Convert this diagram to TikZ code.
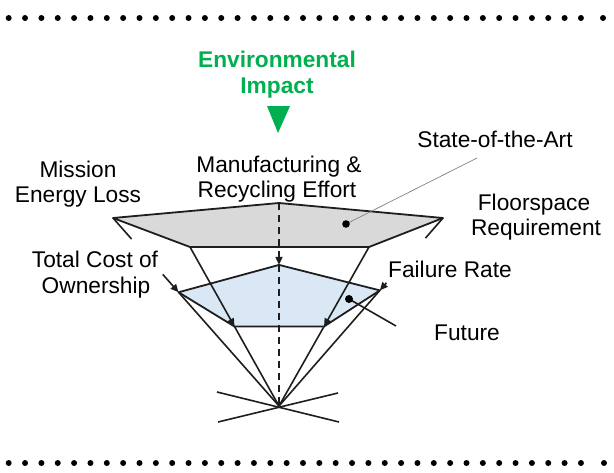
\documentclass[tikz,border=0pt]{standalone}
\usepackage{fontspec}
\setmainfont{Liberation Sans}
\usetikzlibrary{arrows.meta,calc}
\definecolor{envgreen}{RGB}{0,176,80}
\definecolor{sotagray}{RGB}{217,217,217}
\definecolor{futblue}{RGB}{218,232,246}
\definecolor{edgeblack}{RGB}{30,30,30}
\begin{document}
\begin{tikzpicture}[x=1pt,y=-1pt,line join=round,
  lbl/.style={font=\fontsize{22.7}{25}\selectfont,inner sep=0pt,anchor=base},
  envlbl/.style={lbl,font=\fontsize{22.7}{25}\selectfont\bfseries,text=envgreen},
  polyedge/.style={line width=1.8pt,draw=edgeblack},
  axis/.style={line width=1.6pt,draw=edgeblack},
  tip/.style={-{Triangle[length=8pt,width=7pt]}},
  dashaxis/.style={axis,dash pattern=on 7pt off 5pt},
  borderdot/.style={fill=black}]
\useasboundingbox (0,0) rectangle (614,472);
% dotted borders
\foreach \i in {0,...,35} {
  \fill[borderdot] ({8.7+16.35*\i},18) circle (3);
  \fill[borderdot] ({8.7+16.35*\i},463) circle (3);
}
\fill[borderdot] (603,18) circle (3);
\fill[borderdot] (604,463) circle (3);
% geometry
\coordinate (apex) at (279,406);
\coordinate (gT) at (279,203);
\coordinate (gL) at (113,218);
\coordinate (gR) at (443,218);
\coordinate (gBL) at (190,247);
\coordinate (gBR) at (369,247);
\coordinate (bT) at ($(gT)!0.305!(apex)$);
\coordinate (bL) at ($(gL)!0.395!(apex)$);
\coordinate (bR) at ($(gR)!0.385!(apex)$);
\coordinate (bBL) at ($(gBL)!0.5!(apex)$);
\coordinate (bBR) at ($(gBR)!0.5!(apex)$);
% polygons
\filldraw[polyedge,fill=sotagray] (gL) -- (gT) -- (gR) -- (gBR) -- (gBL) -- cycle;
\filldraw[polyedge,fill=futblue] (bL) -- (bT) -- (bR) -- (bBR) -- (bBL) -- cycle;
% axes
\draw[dashaxis,tip] (gT) -- (bT);
\draw[dashaxis] (bT) -- (apex);
\draw[axis] (gL) -- ($(gL)!0.112!(apex)$);
\draw[axis,tip] ($(gL)!0.30!(apex)$) -- (bL);
\draw[axis] (bL) -- (apex);
\draw[axis] (gR) -- ($(gR)!0.107!(apex)$);
\draw[axis,tip] ($(gR)!0.345!(apex)$) -- (bR);
\draw[axis] (bR) -- (apex);
\draw[axis,tip] (gBL) -- (bBL);
\draw[axis] (bBL) -- (apex);
\draw[axis,tip] (gBR) -- (bBR);
\draw[axis] (bBR) -- (apex);
% crossing lines below apex
\coordinate (x1) at (217,392);
\coordinate (x2) at (339,422);
\coordinate (x3) at (218,422);
\coordinate (x4) at (338,393);
\draw[axis] (x1) -- (x2);
\draw[axis] (x3) -- (x4);
% pointers
\coordinate (sotadot) at (346,224);
\coordinate (sotaend) at (477,158);
\draw[gray,line width=0.7pt] (sotadot) -- (sotaend);
\fill (sotadot) circle (3.8);
\coordinate (futdot) at (349,299);
\coordinate (futend) at (396,326);
\draw[axis] (futdot) -- (futend);
\fill (futdot) circle (4);
% environmental impact
\node[envlbl] (env1) at (277,67) {Environmental};
\node[envlbl] (env2) at (277,93) {Impact};
\fill[envgreen] (267,106) -- (290,106) -- (278,133) -- cycle;
% labels
\node[lbl] (mr1) at (279,172) {Manufacturing \&};
\node[lbl] (mr2) at (277,197) {Recycling Effort};
\node[lbl] (mel1) at (78,177) {Mission};
\node[lbl] (mel2) at (78,202) {Energy Loss};
\node[lbl] (sota) at (495,147) {State-of-the-Art};
\node[lbl] (fr1) at (534,210) {Floorspace};
\node[lbl] (fr2) at (536,235) {Requirement};
\node[lbl] (tco1) at (95,267) {Total Cost of};
\node[lbl] (tco2) at (96,293) {Ownership};
\node[lbl] (fail) at (450,277) {Failure Rate};
\node[lbl] (fut) at (467,340) {Future};
\end{tikzpicture}
\end{document}
